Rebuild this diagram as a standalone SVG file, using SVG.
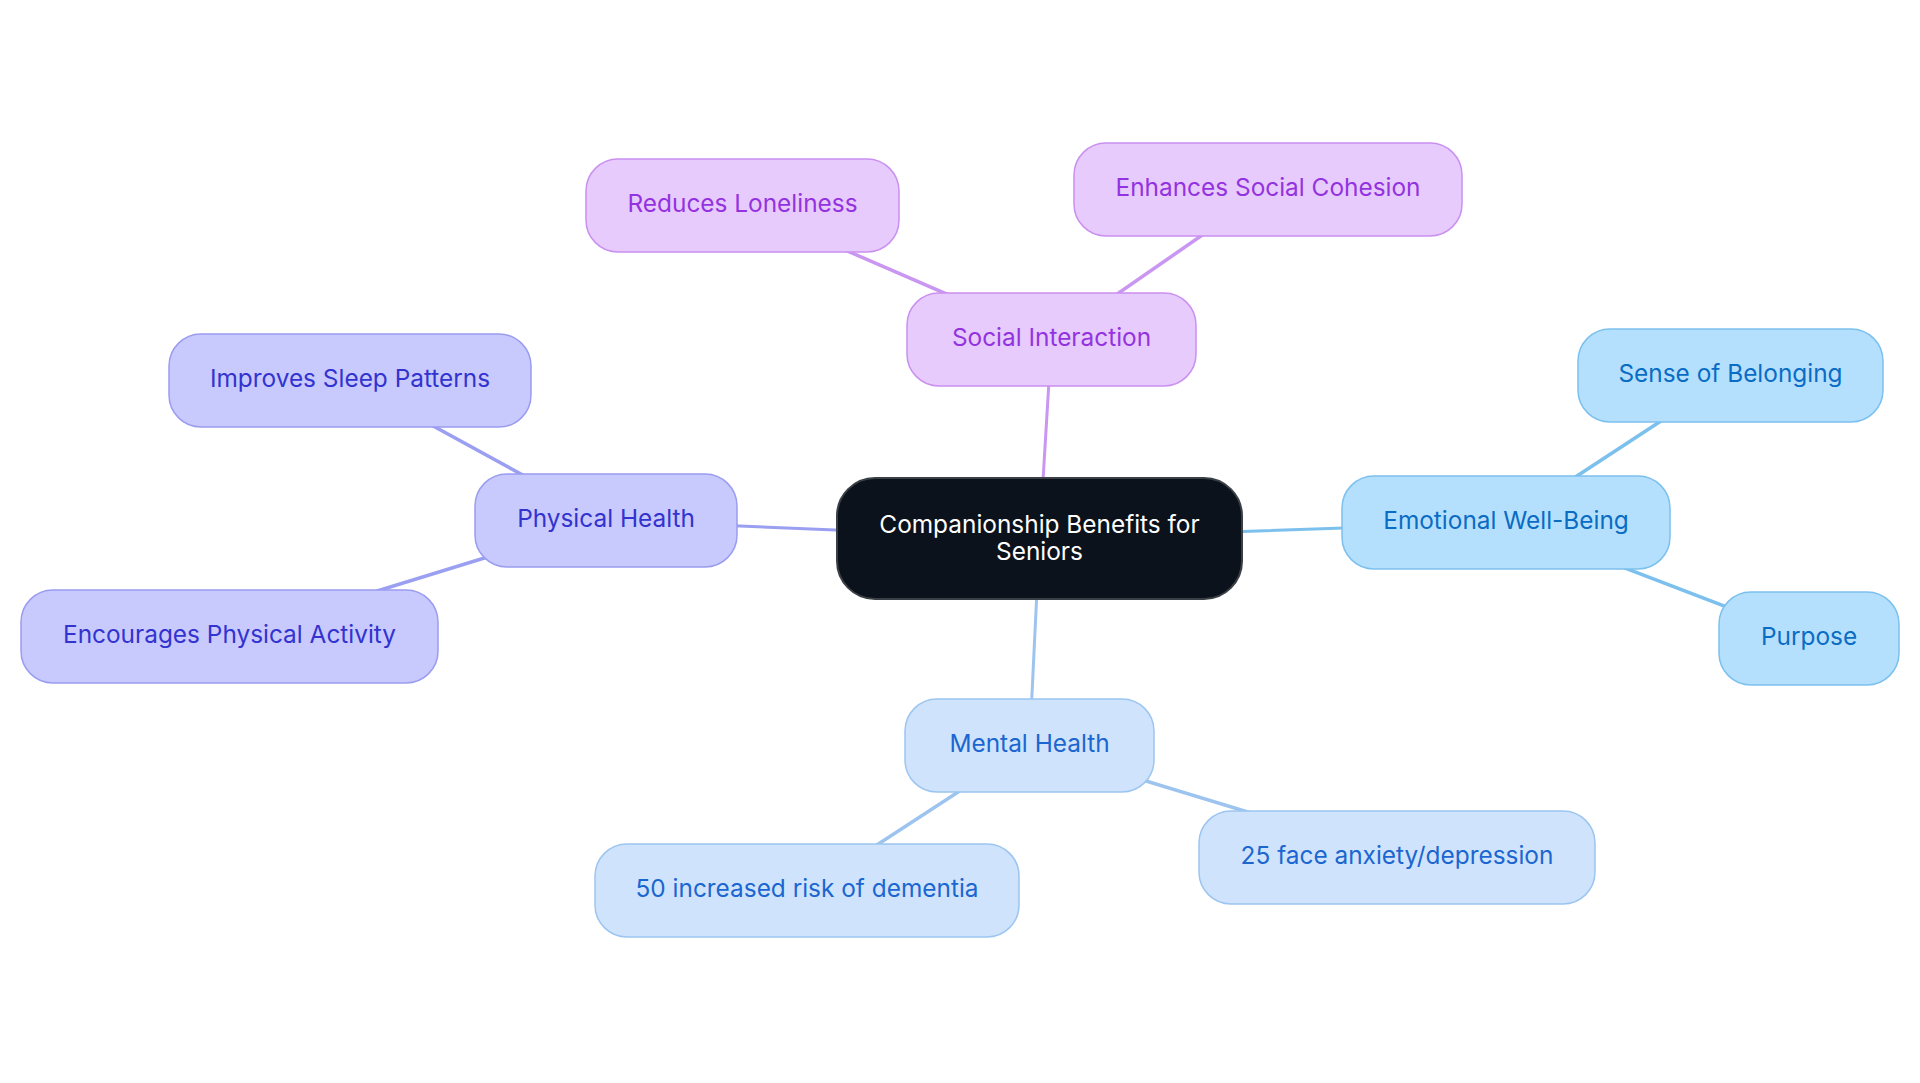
<svg xmlns="http://www.w3.org/2000/svg" width="1920" height="1083" viewBox="0 0 1920 1083">
<style>
text{font-family:Inter,"Noto Sans","Liberation Sans",sans-serif;font-size:24.4px;text-anchor:middle}
.n rect{stroke-width:1.5}
.root rect{fill:#0b121b;stroke:#3b4046;stroke-width:2}
.root text{fill:#ffffff}
.pu rect{fill:#e8cbfd;stroke:#c990f0}
.pu text{fill:#9333e0}
.ind rect{fill:#c8cafd;stroke:#9a9cf0}
.ind text{fill:#3333cf}
.sky rect{fill:#b5e0fd;stroke:#7cc0ee}
.sky text{fill:#0a6cc4}
.blu rect{fill:#cfe4fc;stroke:#9cc5f0}
.blu text{fill:#1b66d0}
.c line{fill:none;stroke-linecap:round}
.lpu{stroke:#c996f2}
.lind{stroke:#9a9ff2}
.lsky{stroke:#7cc0ee}
.lblu{stroke:#9dc4ef}
.l1{stroke-width:3}
.l2{stroke-width:3.5}
</style>
<rect width="1920" height="1083" fill="#ffffff"/>
<g id="connectors" class="c">
<line class="lpu l1" x1="1039.5" y1="538.5" x2="1051.5" y2="339.5"/>
<line class="lpu l2" x1="1051.5" y1="339.5" x2="742.5" y2="205.5"/>
<line class="lpu l2" x1="1051.5" y1="339.5" x2="1268" y2="189.5"/>
<line class="lind l1" x1="1039.5" y1="538.5" x2="606" y2="520.5"/>
<line class="lind l2" x1="606" y1="520.5" x2="350" y2="380.5"/>
<line class="lind l2" x1="606" y1="520.5" x2="229.5" y2="636.5"/>
<line class="lsky l1" x1="1039.5" y1="538.5" x2="1506" y2="522.5"/>
<line class="lsky l2" x1="1506" y1="522.5" x2="1730.5" y2="375.5"/>
<line class="lsky l2" x1="1506" y1="522.5" x2="1809" y2="638.5"/>
<line class="lblu l1" x1="1039.5" y1="538.5" x2="1029.5" y2="745.5"/>
<line class="lblu l2" x1="1029.5" y1="745.5" x2="807" y2="890.5"/>
<line class="lblu l2" x1="1029.5" y1="745.5" x2="1397" y2="857.5"/>
</g>
<g id="root" class="n root">
<rect x="837" y="478" width="405" height="121" rx="38"/>
<text x="1039.5" y="532.5">Companionship Benefits for</text>
<text x="1039.5" y="559.5">Seniors</text>
</g>
<g id="social" class="n pu">
<rect x="907" y="293" width="289" height="93" rx="32"/>
<text x="1051.5" y="346">Social Interaction</text>
</g>
<g id="loneliness" class="n pu">
<rect x="586" y="159" width="313" height="93" rx="32"/>
<text x="742.5" y="212">Reduces Loneliness</text>
</g>
<g id="cohesion" class="n pu">
<rect x="1074" y="143" width="388" height="93" rx="32"/>
<text x="1268" y="196">Enhances Social Cohesion</text>
</g>
<g id="physical" class="n ind">
<rect x="475" y="474" width="262" height="93" rx="32"/>
<text x="606" y="527">Physical Health</text>
</g>
<g id="sleep" class="n ind">
<rect x="169" y="334" width="362" height="93" rx="32"/>
<text x="350" y="387">Improves Sleep Patterns</text>
</g>
<g id="activity" class="n ind">
<rect x="21" y="590" width="417" height="93" rx="32"/>
<text x="229.5" y="643">Encourages Physical Activity</text>
</g>
<g id="emotional" class="n sky">
<rect x="1342" y="476" width="328" height="93" rx="32"/>
<text x="1506" y="529">Emotional Well-Being</text>
</g>
<g id="belonging" class="n sky">
<rect x="1578" y="329" width="305" height="93" rx="32"/>
<text x="1730.5" y="382">Sense of Belonging</text>
</g>
<g id="purpose" class="n sky">
<rect x="1719" y="592" width="180" height="93" rx="32"/>
<text x="1809" y="645">Purpose</text>
</g>
<g id="mental" class="n blu">
<rect x="905" y="699" width="249" height="93" rx="32"/>
<text x="1029.5" y="752">Mental Health</text>
</g>
<g id="dementia" class="n blu">
<rect x="595" y="844" width="424" height="93" rx="32"/>
<text x="807" y="897">50 increased risk of dementia</text>
</g>
<g id="anxiety" class="n blu">
<rect x="1199" y="811" width="396" height="93" rx="32"/>
<text x="1397" y="864">25 face anxiety/depression</text>
</g>
</svg>
